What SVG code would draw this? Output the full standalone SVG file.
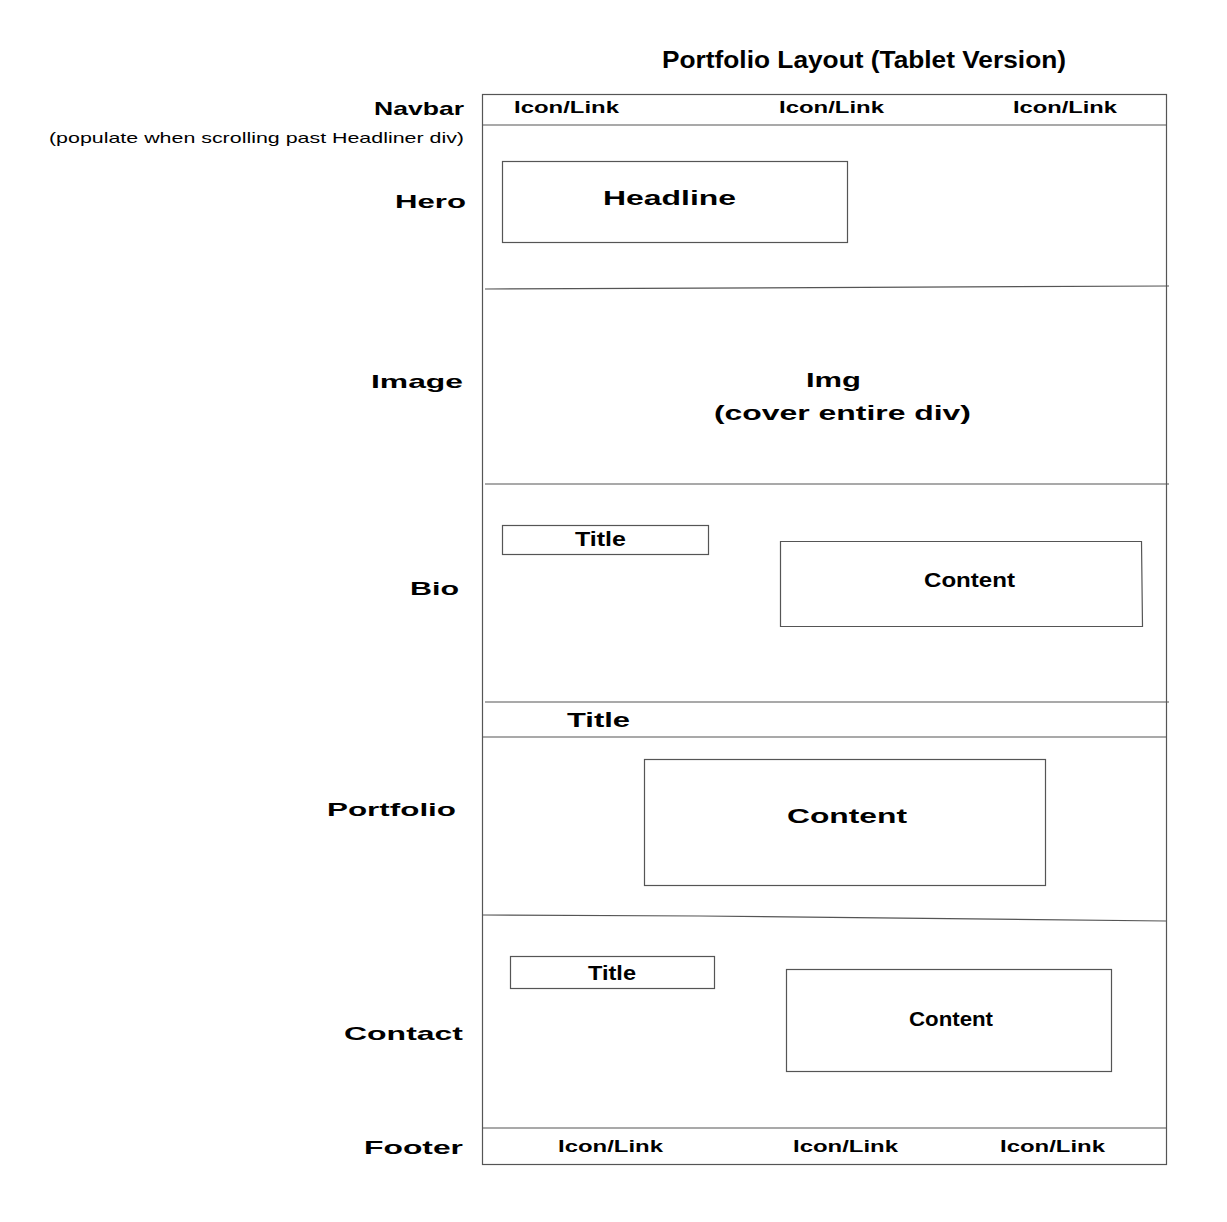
<svg xmlns="http://www.w3.org/2000/svg" width="1227" height="1222" viewBox="0 0 1227 1222">
  <style>
    text { font-family: "Liberation Sans", Arial, sans-serif; fill: #000; font-weight: bold; }
    .frame { fill: none; stroke: #555; stroke-width: 1.2; }
    .rule { fill: none; stroke: #555; stroke-width: 1.2; }
    .box { fill: #fff; stroke: #555; stroke-width: 1.2; }
    .side { font-size: 19px; }
    .link { font-size: 16px; }
    .note { font-size: 15px; font-weight: normal; }
  </style>
  <rect width="1227" height="1222" fill="#fff"/>

  <text x="662" y="68" font-size="24" textLength="404" lengthAdjust="spacingAndGlyphs">Portfolio Layout (Tablet Version)</text>

  <!-- page frame and section dividers -->
  <g id="sections">
    <rect class="frame" x="482.5" y="94.5" width="684" height="1070"/>
    <line class="rule" x1="482" y1="125" x2="1166" y2="125"/>
    <line class="rule" x1="485" y1="289" x2="1169" y2="286"/>
    <line class="rule" x1="485" y1="484" x2="1169" y2="484"/>
    <line class="rule" x1="485" y1="702" x2="1169" y2="702"/>
    <line class="rule" x1="482" y1="737" x2="1166" y2="737"/>
    <polyline class="rule" points="482,915 700,916 1166,921"/>
    <line class="rule" x1="482" y1="1128" x2="1166" y2="1128"/>
  </g>

  <!-- side labels -->
  <g id="labels">
    <text class="side" x="374" y="115" textLength="90" lengthAdjust="spacingAndGlyphs">Navbar</text>
    <text class="note" x="49" y="143" textLength="415" lengthAdjust="spacingAndGlyphs">(populate when scrolling past Headliner div)</text>
    <text class="side" x="395" y="208" textLength="71" lengthAdjust="spacingAndGlyphs">Hero</text>
    <text class="side" x="371" y="388" textLength="92" lengthAdjust="spacingAndGlyphs">Image</text>
    <text class="side" x="410" y="595" textLength="49" lengthAdjust="spacingAndGlyphs">Bio</text>
    <text class="side" x="327" y="816" textLength="129" lengthAdjust="spacingAndGlyphs">Portfolio</text>
    <text class="side" x="344" y="1040" textLength="119" lengthAdjust="spacingAndGlyphs">Contact</text>
    <text class="side" x="364" y="1154" textLength="99" lengthAdjust="spacingAndGlyphs">Footer</text>
  </g>

  <g id="navbar">
    <text class="link" x="514" y="113" textLength="105" lengthAdjust="spacingAndGlyphs">Icon/Link</text>
    <text class="link" x="779" y="113" textLength="105" lengthAdjust="spacingAndGlyphs">Icon/Link</text>
    <text class="link" x="1013" y="113" textLength="104" lengthAdjust="spacingAndGlyphs">Icon/Link</text>
  </g>

  <g id="hero">
    <rect class="box" x="502.5" y="161.5" width="345" height="81"/>
    <text x="603" y="205" font-size="21" textLength="133" lengthAdjust="spacingAndGlyphs">Headline</text>
  </g>

  <g id="image">
    <text x="806" y="387" font-size="21" textLength="55" lengthAdjust="spacingAndGlyphs">Img</text>
    <text x="714" y="420" font-size="21" textLength="257" lengthAdjust="spacingAndGlyphs">(cover entire div)</text>
  </g>

  <g id="bio">
    <rect class="box" x="502.5" y="525.5" width="206" height="29"/>
    <text x="575" y="546" font-size="20" textLength="51" lengthAdjust="spacingAndGlyphs">Title</text>
    <polygon class="box" points="780.5,541.5 1141.5,541.5 1142.5,626.5 780.5,626.5"/>
    <text x="924" y="587" font-size="20" textLength="91" lengthAdjust="spacingAndGlyphs">Content</text>
  </g>

  <g id="portfolio">
    <text x="567" y="727" font-size="20" textLength="63" lengthAdjust="spacingAndGlyphs">Title</text>
    <rect class="box" x="644.5" y="759.5" width="401" height="126"/>
    <text x="787" y="823" font-size="21" textLength="120" lengthAdjust="spacingAndGlyphs">Content</text>
  </g>

  <g id="contact">
    <rect class="box" x="510.5" y="956.5" width="204" height="32"/>
    <text x="588" y="980" font-size="20" textLength="48" lengthAdjust="spacingAndGlyphs">Title</text>
    <rect class="box" x="786.5" y="969.5" width="325" height="102"/>
    <text x="909" y="1026" font-size="20" textLength="84" lengthAdjust="spacingAndGlyphs">Content</text>
  </g>

  <g id="footer">
    <text class="link" x="558" y="1152" textLength="105" lengthAdjust="spacingAndGlyphs">Icon/Link</text>
    <text class="link" x="793" y="1152" textLength="105" lengthAdjust="spacingAndGlyphs">Icon/Link</text>
    <text class="link" x="1000" y="1152" textLength="105" lengthAdjust="spacingAndGlyphs">Icon/Link</text>
  </g>

  <!-- no connectors in this layout -->
  <g id="connectors"/>
</svg>
